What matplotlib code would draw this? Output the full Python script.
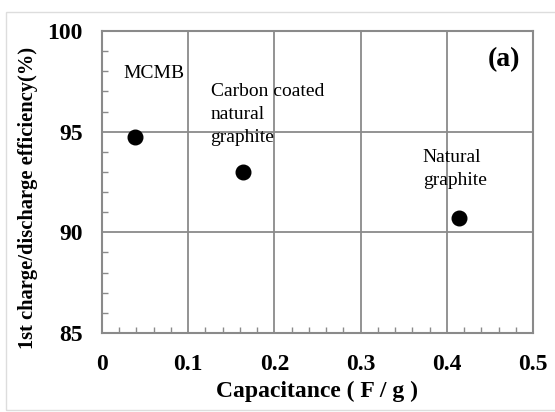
import matplotlib
matplotlib.use("Agg")
import matplotlib.pyplot as plt
from matplotlib.ticker import MultipleLocator
from matplotlib.patches import Rectangle

# capacitance (F/g) vs 1st charge/discharge efficiency (%)
names = ["MCMB", "Carbon coated\nnatural\ngraphite", "Natural\ngraphite"]
capacitance = [0.038, 0.163, 0.414]
efficiency = [94.75, 93.0, 90.72]
label_pos = [(0.025, 97.87), (0.126, 95.85), (0.372, 93.15)]
xticks = [0, 0.1, 0.2, 0.3, 0.4, 0.5]
xticklabels = ['0', '0.1', '0.2', '0.3', '0.4', '0.5']

plt.rcParams['font.family'] = ['Liberation Serif', 'DejaVu Serif']

fig = plt.figure(figsize=(5.55, 4.12), dpi=100)
ax = fig.add_axes([102 / 555, 1 - 333 / 412, 431 / 555, 302 / 412])

grey = '#8a8a8a'
ax.plot(capacitance, efficiency, 'o', color='black', markersize=10.5, zorder=3)
for name, (lx, ly) in zip(names, label_pos):
    ax.text(lx, ly, name, fontsize=14, va='center', ha='left', linespacing=1.45)
ax.text(0.485, 98.6, '(a)', fontsize=20, fontweight='bold', ha='right', va='center')

ax.set_xlim(0, 0.5)
ax.set_ylim(85, 100)
ax.set_xticks(xticks)
ax.set_xticklabels(xticklabels)
ax.xaxis.set_minor_locator(MultipleLocator(0.02))
ax.yaxis.set_major_locator(MultipleLocator(5))
ax.yaxis.set_minor_locator(MultipleLocator(1))
ax.grid(True, which='major', color=grey, linewidth=1.3)
ax.tick_params(which='both', direction='in', colors=grey, labelcolor='black',
               labelsize=17, top=False, right=False)
ax.tick_params(axis='x', which='major', length=0, pad=15)
ax.tick_params(axis='y', which='major', length=0, pad=14)
ax.tick_params(which='minor', length=4, width=1)
for lab in ax.get_xticklabels() + ax.get_yticklabels():
    lab.set_fontweight('bold')
for s in ax.spines.values():
    s.set_color(grey)
    s.set_linewidth(1.5)

ax.set_xlabel('Capacitance ( F / g )', fontsize=17, fontweight='bold', labelpad=4)
ax.set_ylabel('1st charge/discharge efficiency(%)', fontsize=14.8, fontweight='bold')
ax.yaxis.set_label_coords(-0.148, 0.447)

fig.patches.append(Rectangle((6 / 555, 2 / 412), 1, 1 - 14 / 412, transform=fig.transFigure,
                             fill=False, edgecolor='#dddddd', linewidth=1))

fig.savefig('out.png', dpi=100)
